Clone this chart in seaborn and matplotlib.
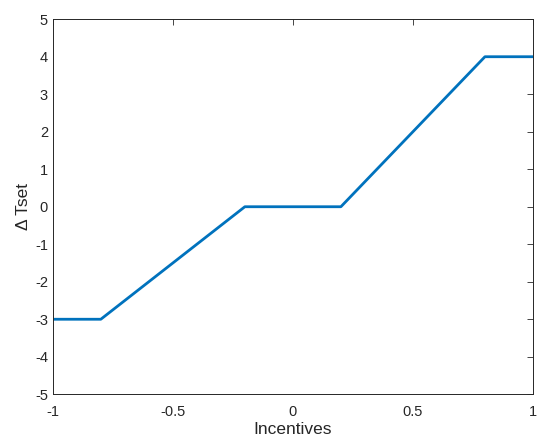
import seaborn as sns
import pandas as pd
from matplotlib import pyplot as plt

incentives = [-1.0, -0.8, -0.2, 0.2, 0.8, 1.0]
delta_tset = [-3, -3, 0, 0, 4, 4]
x_ticks = [-1, -0.5, 0, 0.5, 1]
x_labels = ['-1', '-0.5', '0', '0.5', '1']
y_ticks = list(range(-5, 6))

sns.set_style('white')
plt.rcParams['font.family'] = ['Liberation Sans', 'DejaVu Sans']
plt.rcParams['axes.unicode_minus'] = False

df = pd.DataFrame({'Incentives': incentives, 'dT': delta_tset})

fig, ax = plt.subplots(figsize=(5.5, 4.47), dpi=100)
fig.subplots_adjust(left=0.096, right=0.969, bottom=0.118, top=0.957)
sns.lineplot(data=df, x='Incentives', y='dT', ax=ax, color='#0072BD', linewidth=2, sort=False)

ax.set_xlim(-1, 1)
ax.set_ylim(-5, 5)
ax.set_xticks(x_ticks)
ax.set_xticklabels(x_labels)
ax.set_yticks(y_ticks)
ax.tick_params(direction='in', length=4, width=0.6, colors='#262626', labelsize=10.5,
               top=True, right=True, labelcolor='#262626')
ax.tick_params(axis='x', pad=8)
for s in ax.spines.values():
    s.set_color('#262626')
    s.set_linewidth(0.7)
ax.set_xlabel('Incentives', fontsize=12.5, color='#262626', labelpad=2)
ax.set_ylabel('\u0394 Tset', fontsize=12.5, color='#262626', labelpad=3)

fig.savefig('out.png', dpi=100)
